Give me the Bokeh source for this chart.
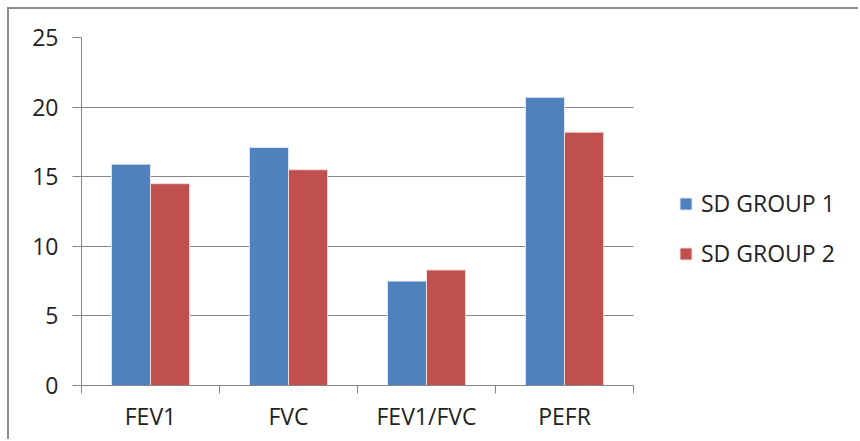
import numpy as np
from bokeh.plotting import figure
from bokeh.models import (ColumnDataSource, FixedTicker, Legend, LegendItem, Range1d)
from bokeh.transform import dodge
from bokeh.embed import file_html
from bokeh.resources import INLINE

categories = ["FEV1", "FVC", "FEV1/FVC", "PEFR"]
sd_group_1 = [15.9, 17.1, 7.5, 20.7]
sd_group_2 = [14.5, 15.5, 8.3, 18.2]
y_ticks = [0, 5, 10, 15, 20, 25]
series_names = ["SD GROUP 1", "SD GROUP 2"]

FONT = "Open Sans"
GRAY = "#868686"
FS = "23px"

n = len(categories)
xc = list(np.arange(n) + 0.5)
src = ColumnDataSource(dict(xc=xc, g1=sd_group_1, g2=sd_group_2, cat=categories))

# frame spans to the right edge; the category area occupies the left 552 px of 779 px
frame_w, cat_w = 779, 552
p = figure(width=851, height=432, output_backend="svg", toolbar_location=None,
           x_range=Range1d(0, n * frame_w / cat_w), y_range=Range1d(0, 25),
           min_border_left=72, min_border_right=0, min_border_top=28, min_border_bottom=56)
p.margin = (7, 0, 0, 7)
p.styles = {"border-top": "2px solid #8c8c8c", "border-left": "2px solid #8c8c8c"}

bw = 0.283
r1 = p.vbar(x=dodge("xc", -bw / 2, range=p.x_range), top="g1", width=bw, source=src,
            fill_color="#4F81BD", line_color="#dce6f2", line_width=1)
r2 = p.vbar(x=dodge("xc", bw / 2, range=p.x_range), top="g2", width=bw, source=src,
            fill_color="#C0504D", line_color="#f2dcdb", line_width=1)

p.outline_line_color = None
p.background_fill_color = "white"
p.border_fill_color = "white"

# y axis
p.yaxis.ticker = FixedTicker(ticks=y_ticks)
p.yaxis.axis_line_color = GRAY
p.yaxis.major_tick_line_color = GRAY
p.yaxis.major_tick_in = 0
p.yaxis.major_tick_out = 9
p.yaxis.minor_tick_line_color = None
p.yaxis.major_label_text_font = FONT
p.yaxis.major_label_text_font_size = FS
p.yaxis.major_label_text_color = "#222222"
p.yaxis.major_label_standoff = 14

# x axis
p.xaxis.bounds = (0, n)
p.xaxis.ticker = FixedTicker(ticks=xc, minor_ticks=list(range(n + 1)))
p.xaxis.major_label_overrides = {float(x): c for x, c in zip(xc, categories)}
p.xaxis.axis_line_color = GRAY
p.xaxis.major_tick_line_color = None
p.xaxis.major_tick_in = 0
p.xaxis.major_tick_out = 0
p.xaxis.minor_tick_line_color = GRAY
p.xaxis.minor_tick_in = 0
p.xaxis.minor_tick_out = 8
p.xaxis.major_label_text_font = FONT
p.xaxis.major_label_text_font_size = FS
p.xaxis.major_label_text_color = "#222222"
p.xaxis.major_label_standoff = 6

p.xgrid.grid_line_color = None
p.ygrid.ticker = FixedTicker(ticks=y_ticks[1:])
p.ygrid.cross_bounds = (0, n)
p.ygrid.grid_line_color = GRAY
p.ygrid.grid_line_width = 1

legend = Legend(items=[LegendItem(label=series_names[0], renderers=[r1]),
                       LegendItem(label=series_names[1], renderers=[r2])],
                location=(597, 116))
legend.border_line_color = None
legend.background_fill_alpha = 0
legend.margin = 0
legend.padding = 0
legend.glyph_width = 15
legend.glyph_height = 15
legend.label_standoff = 8
legend.spacing = 18
legend.label_height = 30
legend.label_text_font = FONT
legend.label_text_font_size = FS
legend.label_text_color = "#222222"
p.add_layout(legend, "center")

open("out.html", "w").write(file_html(p, INLINE))
